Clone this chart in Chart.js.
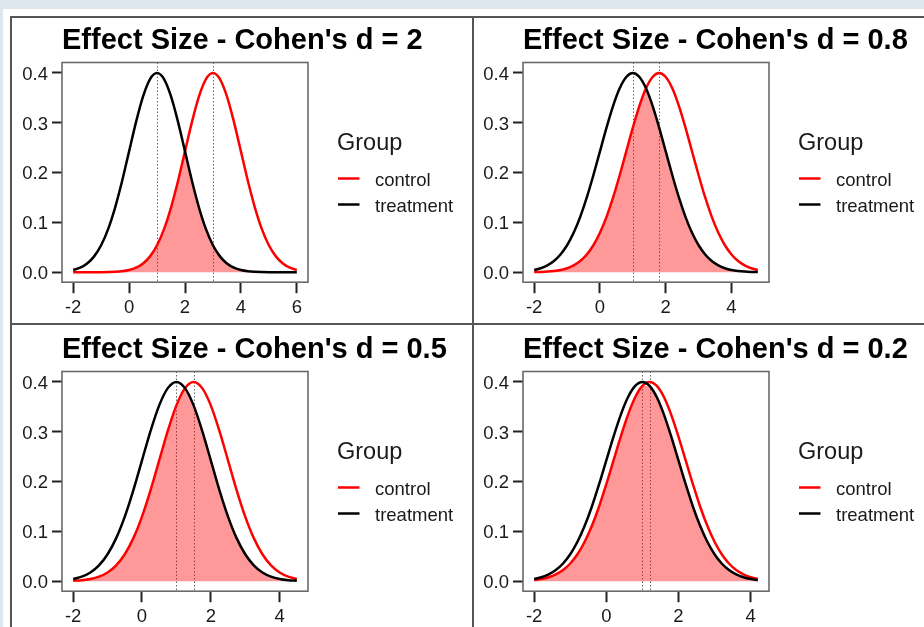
<!DOCTYPE html>
<html>
<head>
<meta charset="utf-8">
<title>Effect Size - Cohen's d</title>
<script src="https://cdn.jsdelivr.net/npm/chart.js@4.4.1/dist/chart.umd.min.js"></script>
<style>
  html, body { margin: 0; padding: 0; }
  body { width: 924px; height: 627px; overflow: hidden; position: relative; background: #fff; }
  .band-top { position: absolute; left: 0; top: 0; width: 924px; height: 9px; background: #dfe7ee; }
  .band-left { position: absolute; left: 0; top: 0; width: 3px; height: 627px; background: #dfe7ee; }
  .frame { position: absolute; left: 10px; top: 16px; width: 960px; height: 700px; border-left: 2px solid #555; border-top: 2px solid #555; }
  .vline { position: absolute; left: 472px; top: 16px; width: 2px; height: 620px; background: #555; }
  .hline { position: absolute; left: 10px; top: 323px; width: 920px; height: 2px; background: #555; }
  canvas { position: absolute; }
</style>
</head>
<body>
<div class="band-top"></div>
<div class="band-left"></div>
<div class="frame"></div>
<div class="vline"></div>
<div class="hline"></div>
<canvas id="c1" width="462" height="307" style="left:11px;top:17px"></canvas>
<canvas id="c2" width="462" height="307" style="left:472px;top:17px"></canvas>
<canvas id="c3" width="462" height="307" style="left:11px;top:326px"></canvas>
<canvas id="c4" width="462" height="307" style="left:472px;top:326px"></canvas>
<script>
// Данные: плотности двух групп для каждого размера эффекта

const panelTitles = [
    "Effect Size - Cohen's d = 2",
    "Effect Size - Cohen's d = 0.8",
    "Effect Size - Cohen's d = 0.5",
    "Effect Size - Cohen's d = 0.2"
];
const groupNames = ['control', 'treatment'];
const treatmentMeans = [1, 1, 1, 1];
const controlMeans = [3, 1.8, 1.5, 1.2];

const xTicksWide = [-2, 0, 2, 4, 6];
const xTicksNarrow = [-2, 0, 2, 4];
const yTicks = [0, 0.1, 0.2, 0.3, 0.4];

// d = 2
const xD2 = [-2, -1.75, -1.5, -1.25, -1, -0.75, -0.5, -0.25, 0, 0.25, 0.5, 0.75, 1, 1.25, 1.5, 1.75,
    2, 2.25, 2.5, 2.75, 3, 3.25, 3.5, 3.75, 4, 4.25, 4.5, 4.75, 5, 5.25, 5.5, 5.75, 6];
const controlD2 = [0, 0, 0, 0, 0.0001, 0.0004, 0.0009, 0.0020, 0.0044, 0.0091, 0.0175, 0.0317, 0.0540,
    0.0863, 0.1295, 0.1826, 0.2420, 0.3011, 0.3521, 0.3867, 0.3989, 0.3867, 0.3521, 0.3011, 0.2420,
    0.1826, 0.1295, 0.0863, 0.0540, 0.0317, 0.0175, 0.0091, 0.0044];
const treatmentD2 = [0.0044, 0.0091, 0.0175, 0.0317, 0.0540, 0.0863, 0.1295, 0.1826, 0.2420, 0.3011,
    0.3521, 0.3867, 0.3989, 0.3867, 0.3521, 0.3011, 0.2420, 0.1826, 0.1295, 0.0863, 0.0540, 0.0317,
    0.0175, 0.0091, 0.0044, 0.0020, 0.0009, 0.0004, 0.0001, 0, 0, 0, 0];

// d = 0.8
const xD08 = [-2, -1.8, -1.6, -1.4, -1.2, -1, -0.8, -0.6, -0.4, -0.2, 0, 0.2, 0.4, 0.6, 0.8, 1, 1.2, 1.4,
    1.6, 1.8, 2, 2.2, 2.4, 2.6, 2.8, 3, 3.2, 3.4, 3.6, 3.8, 4, 4.2, 4.4, 4.6, 4.8];
const controlD08 = [0.0003, 0.0006, 0.0012, 0.0024, 0.0044, 0.0079, 0.0136, 0.0224, 0.0355, 0.0540,
    0.0790, 0.1109, 0.1497, 0.1942, 0.2420, 0.2897, 0.3332, 0.3683, 0.3910, 0.3989, 0.3910, 0.3683,
    0.3332, 0.2897, 0.2420, 0.1942, 0.1497, 0.1109, 0.0790, 0.0540, 0.0355, 0.0224, 0.0136, 0.0079, 0.0044];
const treatmentD08 = [0.0044, 0.0079, 0.0136, 0.0224, 0.0355, 0.0540, 0.0790, 0.1109, 0.1497, 0.1942,
    0.2420, 0.2897, 0.3332, 0.3683, 0.3910, 0.3989, 0.3910, 0.3683, 0.3332, 0.2897, 0.2420, 0.1942,
    0.1497, 0.1109, 0.0790, 0.0540, 0.0355, 0.0224, 0.0136, 0.0079, 0.0044, 0.0024, 0.0012, 0.0006, 0.0003];

// d = 0.5
const xD05 = [-2, -1.75, -1.5, -1.25, -1, -0.75, -0.5, -0.25, 0, 0.25, 0.5, 0.75, 1, 1.25, 1.5, 1.75,
    2, 2.25, 2.5, 2.75, 3, 3.25, 3.5, 3.75, 4, 4.25, 4.5];
const controlD05 = [0.0009, 0.0020, 0.0044, 0.0091, 0.0175, 0.0317, 0.0540, 0.0863, 0.1295, 0.1826,
    0.2420, 0.3011, 0.3521, 0.3867, 0.3989, 0.3867, 0.3521, 0.3011, 0.2420, 0.1826, 0.1295, 0.0863,
    0.0540, 0.0317, 0.0175, 0.0091, 0.0044];
const treatmentD05 = [0.0044, 0.0091, 0.0175, 0.0317, 0.0540, 0.0863, 0.1295, 0.1826, 0.2420, 0.3011,
    0.3521, 0.3867, 0.3989, 0.3867, 0.3521, 0.3011, 0.2420, 0.1826, 0.1295, 0.0863, 0.0540, 0.0317,
    0.0175, 0.0091, 0.0044, 0.0020, 0.0009];

// d = 0.2
const xD02 = [-2, -1.8, -1.6, -1.4, -1.2, -1, -0.8, -0.6, -0.4, -0.2, 0, 0.2, 0.4, 0.6, 0.8, 1, 1.2, 1.4,
    1.6, 1.8, 2, 2.2, 2.4, 2.6, 2.8, 3, 3.2, 3.4, 3.6, 3.8, 4, 4.2];
const controlD02 = [0.0024, 0.0044, 0.0079, 0.0136, 0.0224, 0.0355, 0.0540, 0.0790, 0.1109, 0.1497,
    0.1942, 0.2420, 0.2897, 0.3332, 0.3683, 0.3910, 0.3989, 0.3910, 0.3683, 0.3332, 0.2897, 0.2420,
    0.1942, 0.1497, 0.1109, 0.0790, 0.0540, 0.0355, 0.0224, 0.0136, 0.0079, 0.0044];
const treatmentD02 = [0.0044, 0.0079, 0.0136, 0.0224, 0.0355, 0.0540, 0.0790, 0.1109, 0.1497, 0.1942,
    0.2420, 0.2897, 0.3332, 0.3683, 0.3910, 0.3989, 0.3910, 0.3683, 0.3332, 0.2897, 0.2420, 0.1942,
    0.1497, 0.1109, 0.0790, 0.0540, 0.0355, 0.0224, 0.0136, 0.0079, 0.0044, 0.0024];

const FONT = 'Arial, "Liberation Sans", sans-serif';
const TEXT_COLOR = '#1a1a1a';

// Плагин: рамка, заголовок, пунктир на средних и легенда справа
const panelPlugin = {
    id: 'panelDecor',
    beforeDatasetsDraw(chart, args, opts) {
        const ctx = chart.ctx;
        const ca = chart.chartArea;
        const x = chart.scales.x;
        ctx.save();
        ctx.strokeStyle = '#666';
        ctx.lineWidth = 1;
        ctx.setLineDash([1.5, 2]);
        opts.means.forEach(m => {
            const px = Math.round(x.getPixelForValue(m)) + 0.5;
            ctx.beginPath();
            ctx.moveTo(px, ca.top);
            ctx.lineTo(px, ca.bottom);
            ctx.stroke();
        });
        ctx.restore();
    },
    afterDraw(chart, args, opts) {
        const ctx = chart.ctx;
        const ca = chart.chartArea;
        ctx.save();
        // рамка области графика
        ctx.strokeStyle = '#6a6a6a';
        ctx.lineWidth = 1.6;
        ctx.strokeRect(ca.left, ca.top, ca.right - ca.left, ca.bottom - ca.top);

        // заголовок
        ctx.fillStyle = '#000';
        ctx.font = 'bold 29px ' + FONT;
        ctx.textAlign = 'left';
        ctx.textBaseline = 'alphabetic';
        ctx.fillText(opts.title, ca.left, ca.top - 14);

        // легенда
        ctx.fillStyle = TEXT_COLOR;
        ctx.font = '23.5px ' + FONT;
        ctx.fillText('Group', ca.right + 29, ca.top + 87.5);
        ctx.font = '18.5px ' + FONT;
        groupNames.forEach((name, i) => {
            const ds = chart.data.datasets.find(d => d.label === name);
            const ly = ca.top + 116 + i * 26;
            ctx.strokeStyle = ds.borderColor;
            ctx.lineWidth = 2.5;
            ctx.beginPath();
            ctx.moveTo(ca.right + 30, ly);
            ctx.lineTo(ca.right + 51.5, ly);
            ctx.stroke();
            ctx.fillText(name, ca.right + 67, ly + 7.5);
        });
        ctx.restore();
    }
};

function makePanel(canvasId, title, xs, control, treatment, means, xTicks) {
    // область перекрытия - минимум двух плотностей
    const overlap = control.map((v, i) => Math.min(v, treatment[i]));
    const toPoints = arr => arr.map((y, i) => ({ x: xs[i], y: y }));
    const span = xs[xs.length - 1] - xs[0];
    const pad = span * 0.05;

    new Chart(document.getElementById(canvasId), {
        type: 'line',
        data: {
            datasets: [
                {
                    label: 'treatment',
                    data: toPoints(treatment),
                    borderColor: '#000000',
                    borderWidth: 2.5,
                    pointRadius: 0,
                    cubicInterpolationMode: 'monotone',
                    fill: false
                },
                {
                    label: 'control',
                    data: toPoints(control),
                    borderColor: '#ff0000',
                    borderWidth: 2.5,
                    pointRadius: 0,
                    cubicInterpolationMode: 'monotone',
                    fill: false
                },
                {
                    label: 'overlap',
                    data: toPoints(overlap),
                    borderColor: 'rgba(0,0,0,0)',
                    borderWidth: 0,
                    pointRadius: 0,
                    cubicInterpolationMode: 'monotone',
                    backgroundColor: 'rgba(255,0,0,0.4)',
                    fill: 'origin'
                }
            ]
        },
        options: {
            responsive: false,
            animation: false,
            events: [],
            devicePixelRatio: 1,
            layout: {
                padding: { top: 45.5, right: 165, bottom: 0, left: 0 }
            },
            plugins: {
                legend: { display: false },
                tooltip: { enabled: false },
                panelDecor: { title: title, means: means }
            },
            scales: {
                x: {
                    type: 'linear',
                    min: xs[0] - pad,
                    max: xs[xs.length - 1] + pad,
                    afterFit: scale => { scale.height = 41.8; },
                    afterBuildTicks: scale => { scale.ticks = xTicks.map(v => ({ value: v })); },
                    grid: {
                        display: true,
                        drawOnChartArea: false,
                        drawTicks: true,
                        tickLength: 11,
                        tickWidth: 2,
                        tickColor: '#222'
                    },
                    border: { display: false },
                    ticks: {
                        padding: 4,
                        color: TEXT_COLOR,
                        font: { family: FONT, size: 18.5 },
                        maxRotation: 0,
                        callback: v => String(v)
                    }
                },
                y: {
                    type: 'linear',
                    min: -0.02,
                    max: 0.42,
                    afterFit: scale => { scale.width = 51; },
                    afterBuildTicks: scale => { scale.ticks = yTicks.map(v => ({ value: v })); },
                    grid: {
                        display: true,
                        drawOnChartArea: false,
                        drawTicks: true,
                        tickLength: 10,
                        tickWidth: 2,
                        tickColor: '#222'
                    },
                    border: { display: false },
                    ticks: {
                        padding: 4,
                        labelOffset: 2,
                        color: TEXT_COLOR,
                        font: { family: FONT, size: 18.5 },
                        callback: v => v.toFixed(1)
                    }
                }
            }
        },
        plugins: [panelPlugin]
    });
}

makePanel('c1', panelTitles[0], xD2, controlD2, treatmentD2, [treatmentMeans[0], controlMeans[0]], xTicksWide);
makePanel('c2', panelTitles[1], xD08, controlD08, treatmentD08, [treatmentMeans[1], controlMeans[1]], xTicksNarrow);
makePanel('c3', panelTitles[2], xD05, controlD05, treatmentD05, [treatmentMeans[2], controlMeans[2]], xTicksNarrow);
makePanel('c4', panelTitles[3], xD02, controlD02, treatmentD02, [treatmentMeans[3], controlMeans[3]], xTicksNarrow);
</script>
</body>
</html>
